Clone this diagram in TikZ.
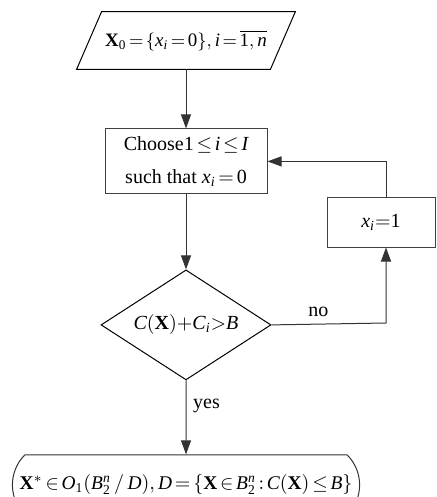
\documentclass[tikz,border=0pt]{standalone}
\usepackage{mathspec}
\setmainfont{Liberation Serif}
\setmathsfont(Digits,Latin){Liberation Serif}
\setmathrm{Liberation Serif}
\usetikzlibrary{positioning, arrows.meta, shapes.geometric, shapes.misc}

\begin{document}
\thickmuskip=2.5mu
\medmuskip=2mu
\begin{tikzpicture}[
        x=0.5pt, y=-0.5pt,
        font=\fontsize{10}{12}\selectfont,
        >={Triangle[length=7pt,width=5pt]},
        node distance=29.5pt,
        iobox/.style={
            rectangle,
            minimum width=109pt,
            minimum height=28.5pt,
            inner sep=0pt,
            align=center,
            font=\fontsize{9.5}{11}\selectfont
        },
        ioline/.style={draw=black, line width=0.5pt},
        procbox/.style={
            rectangle,
            draw=black!75,
            line width=0.5pt,
            minimum width=81pt,
            minimum height=32.5pt,
            inner sep=0pt,
            align=center
        },
        smallbox/.style={
            rectangle,
            draw=black!75,
            line width=0.5pt,
            minimum width=54pt,
            minimum height=24.5pt,
            inner sep=0pt,
            align=center
        },
        decbox/.style={
            diamond,
            draw=black,
            line width=0.5pt,
            aspect=1.545,
            minimum width=85pt,
            minimum height=55pt,
            inner sep=0pt
        },
        endbox/.style={
            rounded rectangle,
            rounded rectangle arc length=90,
            draw=black!80,
            line width=0.5pt,
            minimum width=149.6pt,
            minimum height=30pt,
            inner xsep=-12pt,
            inner ysep=0pt,
            font=\fontsize{9.7}{11}\selectfont
        },
        arr/.style={->, draw=black!80, line width=0.5pt}
    ]

    \useasboundingbox (0,0) rectangle (436,497);
    \clip (0,0) rectangle (436,497);

    \node[iobox] (init) at (186,40.5) {$\mathbf{X}_0=\{x_i=0\},i=\overline{1,n}$};
    % slanted input frame
    \draw[ioline] (init.south west) -- ([xshift=-12.5pt]init.south east)
        -- (init.north east) -- ([xshift=12.5pt]init.north west) -- cycle;

    \node[procbox, below=of init] (choose) {
        Choose$1\le i\le I$\\[4.5pt]
        such that $x_i=0$
    };

    \node[decbox, below=37.5pt of choose] (cond) {$C(\mathbf{X}){+}C_i{>}B$};

    \node[endbox, below=37pt of cond] (result) {
        $\mathbf{X}^*\in O_1(B_2^n\,/\,D), D=\{\mathbf{X}\in B_2^n:C(\mathbf{X})\le B\}$
    };

    \node[smallbox] (setone) at (381,222.5) {$x_i{=}1$};

    \coordinate (noturn) at (386,323);

    \draw[arr] (init)   -- (choose);
    \draw[arr] (choose) -- (cond);
    \draw[arr] (cond)   -- node[right, pos=0.35] {yes} (result);

    \draw[arr] (cond.east) -- node[above, pos=0.41] {no} (noturn) -- (noturn |- setone.south);
    \draw[arr] (noturn |- setone.north) -- (noturn |- choose.east) -- (choose.east);

\end{tikzpicture}
\end{document}
